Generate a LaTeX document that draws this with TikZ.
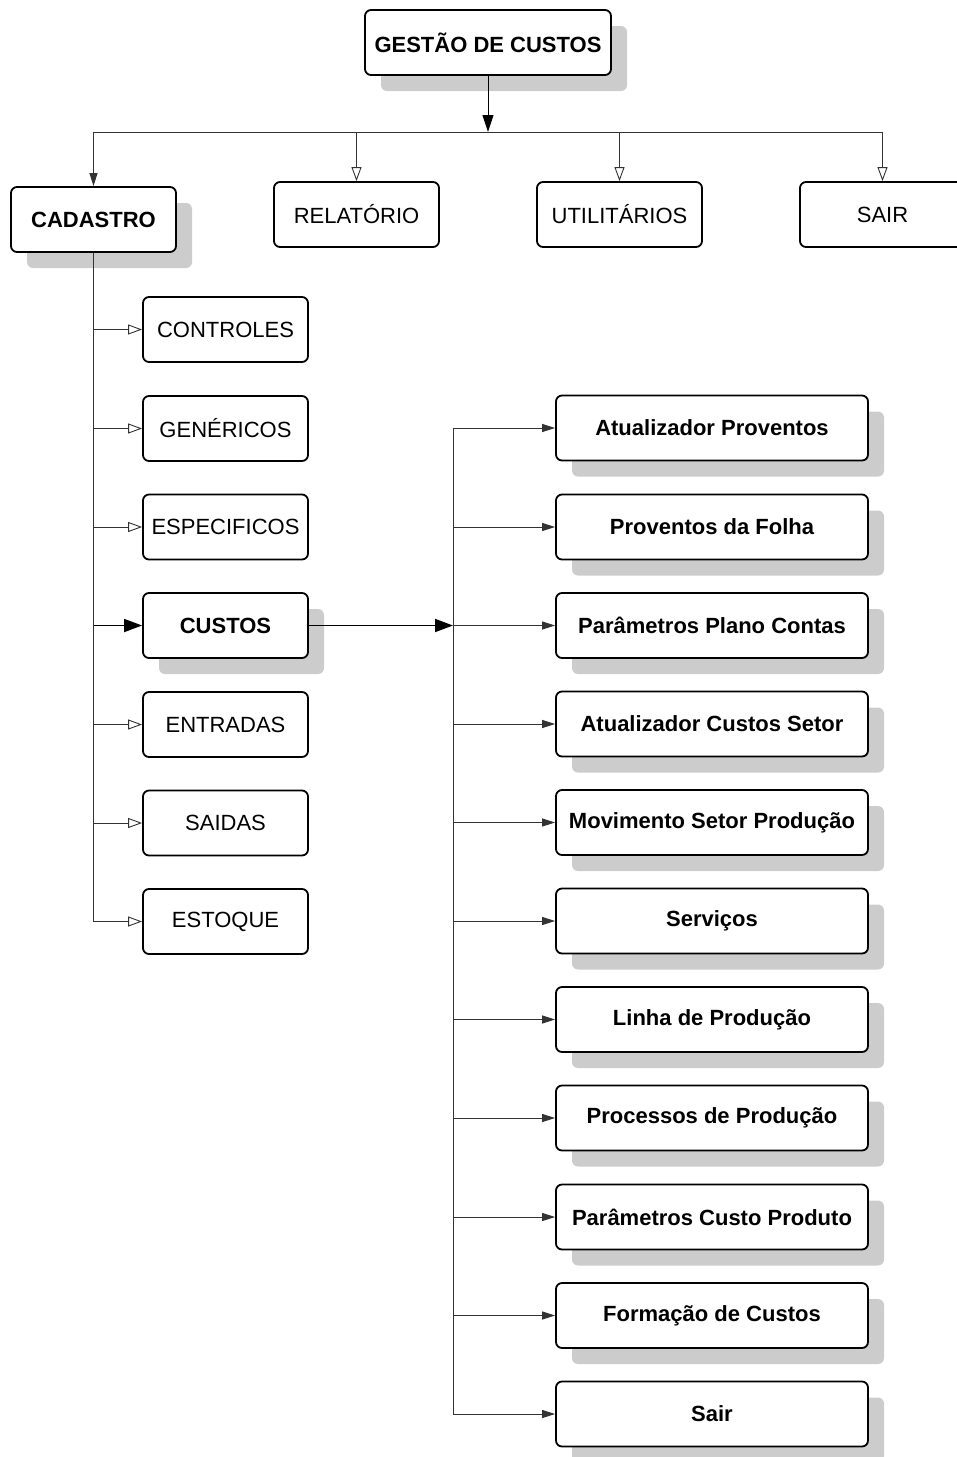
\documentclass[tikz,border=0pt]{standalone}
\usepackage{fontspec}
\setmainfont{Liberation Sans}
\usetikzlibrary{arrows.meta,shadows}
\definecolor{shadowgray}{HTML}{CCCCCC}
\definecolor{wire}{HTML}{333333}
\begin{document}
\begin{tikzpicture}[x=1pt,y=-1pt,
  box/.style={draw=black,line width=1.8pt,rounded corners=6pt,fill=white,
    minimum width=165pt,minimum height=65pt,inner sep=0pt,
    font=\fontsize{22}{25}\selectfont},
  wide/.style={box,minimum width=312pt},
  boldbox/.style={font=\fontsize{22}{25}\selectfont\bfseries},
  shade/.style={drop shadow={shadow xshift=16pt,shadow yshift=-16pt,
    fill=shadowgray,opacity=1}},
  wireline/.style={draw=wire,line width=1pt},
  opentip/.style={wireline,-{Triangle[open,length=14pt,width=10pt,line width=0.9pt]}},
  filltip/.style={wireline,-{Triangle[length=13pt,width=8pt]}},
  bigtip/.style={draw=black,line width=1.8pt,-{Triangle[length=18pt,width=13pt]}},
  toptip/.style={draw=black,line width=1pt,-{Triangle[length=17pt,width=11pt]}}]
\useasboundingbox (0,0) rectangle (957,1457);

% top level
\node[box,boldbox,shade,minimum width=246pt] (top) at (488,42.5) {GESTÃO DE CUSTOS};
\coordinate (busL) at (93.5,132);
\coordinate (busR) at (882,132);

\node[box,boldbox,shade] (cad) at (93.5,219.5) {CADASTRO};
\node[box] (rel) at (356.5,214.5) {RELATÓRIO};
\node[box] (uti) at (619.5,214.5) {UTILITÁRIOS};
\node[box] (sair) at (882.5,214.5) {SAIR};

\draw[wireline] (busL) -- (busR);
\draw[toptip] (top.south) -- (top.south |- busL);
\draw[filltip] (busL) -- (cad.north);
\draw[opentip] (rel.north |- busL) -- (rel.north);
\draw[opentip] (uti.north |- busL) -- (uti.north);
\draw[opentip] (sair.north |- busL) -- (sair.north);

% CADASTRO submenu
\node[box] (ctl) at (225.5,329.5) {CONTROLES};
\node[box] (gen) at (225.5,428.5) {GENÉRICOS};
\node[box] (esp) at (225.5,527) {ESPECIFICOS};
\node[box,boldbox,shade] (cus) at (225.5,625.5) {CUSTOS};
\node[box] (ent) at (225.5,724.5) {ENTRADAS};
\node[box] (sai) at (225.5,823) {SAIDAS};
\node[box] (est) at (225.5,921.5) {ESTOQUE};

\draw[opentip] (cad.south) |- (est.west);
\foreach \n in {ctl,gen,esp,ent,sai}
  \draw[opentip] (cad.south |- \n.west) -- (\n.west);
\draw[bigtip] (cad.south |- cus.west) -- (cus.west);

% CUSTOS submenu
\coordinate (rbus) at (453,625.5);
\draw[bigtip] (cus.east) -- (rbus);

\node[wide,boldbox,shade] (r1) at (712,428) {Atualizador Proventos};
\node[wide,boldbox,shade] (r2) at (712,527) {Proventos da Folha};
\node[wide,boldbox,shade] (r3) at (712,625.5) {Parâmetros Plano Contas};
\node[wide,boldbox,shade] (r4) at (712,724) {Atualizador Custos Setor};
\node[wide,boldbox,shade] (r5) at (712,822.5) {Movimento Setor Produção};
\node[wide,boldbox,shade] (r6) at (712,921) {Serviços};
\node[wide,boldbox,shade] (r7) at (712,1019.5) {Linha de Produção};
\node[wide,boldbox,shade] (r8) at (712,1118) {Processos de Produção};
\node[wide,boldbox,shade] (r9) at (712,1217) {Parâmetros Custo Produto};
\node[wide,boldbox,shade] (r10) at (712,1315.5) {Formação de Custos};
\node[wide,boldbox,shade] (r11) at (712,1414) {Sair};

\draw[wireline] (rbus |- r1.west) -- (rbus |- r11.west);
\foreach \n in {r1,r2,r3,r4,r5,r6,r7,r8,r9,r10,r11}
  \draw[filltip] (rbus |- \n.west) -- (\n.west);
\end{tikzpicture}
\end{document}
